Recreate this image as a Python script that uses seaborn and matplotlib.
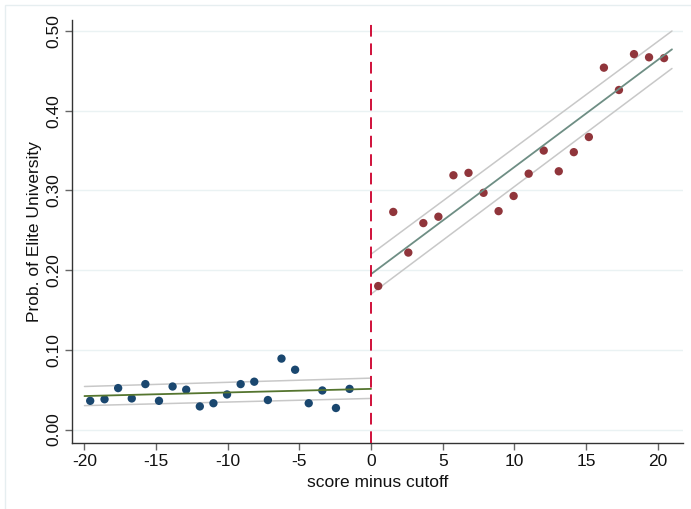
import numpy as np
import pandas as pd
import matplotlib
matplotlib.use("Agg")
import matplotlib.pyplot as plt
import seaborn as sns

# ---- data ----
x_left = [-19.6, -18.6, -17.65, -16.7, -15.75, -14.8, -13.85, -12.9, -11.95, -11.0,
          -10.05, -9.1, -8.15, -7.2, -6.25, -5.3, -4.35, -3.4, -2.45, -1.5]
y_left = [0.036, 0.038, 0.052, 0.039, 0.057, 0.036, 0.054, 0.050, 0.029, 0.033,
          0.044, 0.057, 0.060, 0.037, 0.089, 0.075, 0.033, 0.049, 0.027, 0.051]

x_right = [0.5, 1.55, 2.6, 3.65, 4.7, 5.75, 6.8, 7.85, 8.9, 9.95,
           11.0, 12.05, 13.1, 14.15, 15.2, 16.25, 17.3, 18.35, 19.4, 20.45]
y_right = [0.180, 0.273, 0.222, 0.259, 0.267, 0.319, 0.322, 0.297, 0.274, 0.293,
           0.321, 0.350, 0.324, 0.348, 0.367, 0.454, 0.426, 0.471, 0.467, 0.466]

# linear fits and confidence bounds (read at the segment ends)
fit_x_left = [-20.0, 0.0]
fit_left = [0.042, 0.051]
ci_lo_left = [0.030, 0.039]
ci_hi_left = [0.054, 0.0645]

fit_x_right = [0.0, 21.0]
fit_right = [0.195, 0.477]
ci_lo_right = [0.170, 0.453]
ci_hi_right = [0.220, 0.500]

cutoff = 0
x_ticks = [-20, -15, -10, -5, 0, 5, 10, 15, 20]
y_ticks = [0.0, 0.1, 0.2, 0.3, 0.4, 0.5]
x_label = "score minus cutoff"
y_label = "Prob. of Elite University"

# ---- style ----
sns.set_theme(style="white")
plt.rcParams["font.family"] = ["Liberation Sans", "DejaVu Sans"]

fig = plt.figure(figsize=(6.91, 5.09), dpi=100)
ax = fig.add_axes([72 / 691, 1 - 443 / 509, (683 - 72) / 691, (443 - 20) / 509])

# faint outer frame like the original graph region
fig.add_artist(plt.Rectangle((5 / 691, -0.01), 1.0, 1 - 5 / 509 + 0.01,
                             transform=fig.transFigure, fill=False,
                             edgecolor="#e6eef0", linewidth=1.0))

for yt in y_ticks:
    ax.axhline(yt, color="#eaf2f3", linewidth=1.0, zorder=0)

df_l = pd.DataFrame({"x": x_left, "y": y_left})
df_r = pd.DataFrame({"x": x_right, "y": y_right})

ci_col = "#c8c8c8"
sns.lineplot(x=fit_x_left, y=ci_lo_left, ax=ax, color=ci_col, linewidth=1.1, zorder=2)
sns.lineplot(x=fit_x_left, y=ci_hi_left, ax=ax, color=ci_col, linewidth=1.1, zorder=2)
sns.lineplot(x=fit_x_right, y=ci_lo_right, ax=ax, color=ci_col, linewidth=1.1, zorder=2)
sns.lineplot(x=fit_x_right, y=ci_hi_right, ax=ax, color=ci_col, linewidth=1.1, zorder=2)

sns.scatterplot(data=df_l, x="x", y="y", ax=ax, color="#1a476f", s=36,
                edgecolor="none", zorder=3)
sns.scatterplot(data=df_r, x="x", y="y", ax=ax, color="#90353b", s=36,
                edgecolor="none", zorder=3)

sns.lineplot(x=fit_x_left, y=fit_left, ax=ax, color="#55752f", linewidth=1.3, zorder=4)
sns.lineplot(x=fit_x_right, y=fit_right, ax=ax, color="#6e8e84", linewidth=1.3, zorder=4)

ax.axvline(cutoff, color="#d0103a", linewidth=1.4, linestyle=(0, (6, 3.5)), zorder=5)

ax.set_xlim(-20.87, 21.77)
ax.set_ylim(-0.0169, 0.5138)
ax.set_xticks(x_ticks)
ax.set_xticklabels([str(t) for t in x_ticks])
ax.set_yticks(y_ticks)
ax.set_yticklabels([f"{t:.2f}" for t in y_ticks], rotation=90, va="center")

for s in ["top", "right"]:
    ax.spines[s].set_visible(False)
for s in ["left", "bottom"]:
    ax.spines[s].set_color("#333333")
    ax.spines[s].set_linewidth(1.0)

ax.tick_params(axis="both", which="major", direction="out", length=5, width=1.0,
               color="#666666", labelsize=12.5, labelcolor="#111111", pad=3,
               bottom=True, left=True)
ax.set_xlabel(x_label, fontsize=12.5, color="#111111", labelpad=4)
ax.set_ylabel(y_label, fontsize=12.5, color="#111111", labelpad=3)

fig.savefig("out.png", dpi=100)
